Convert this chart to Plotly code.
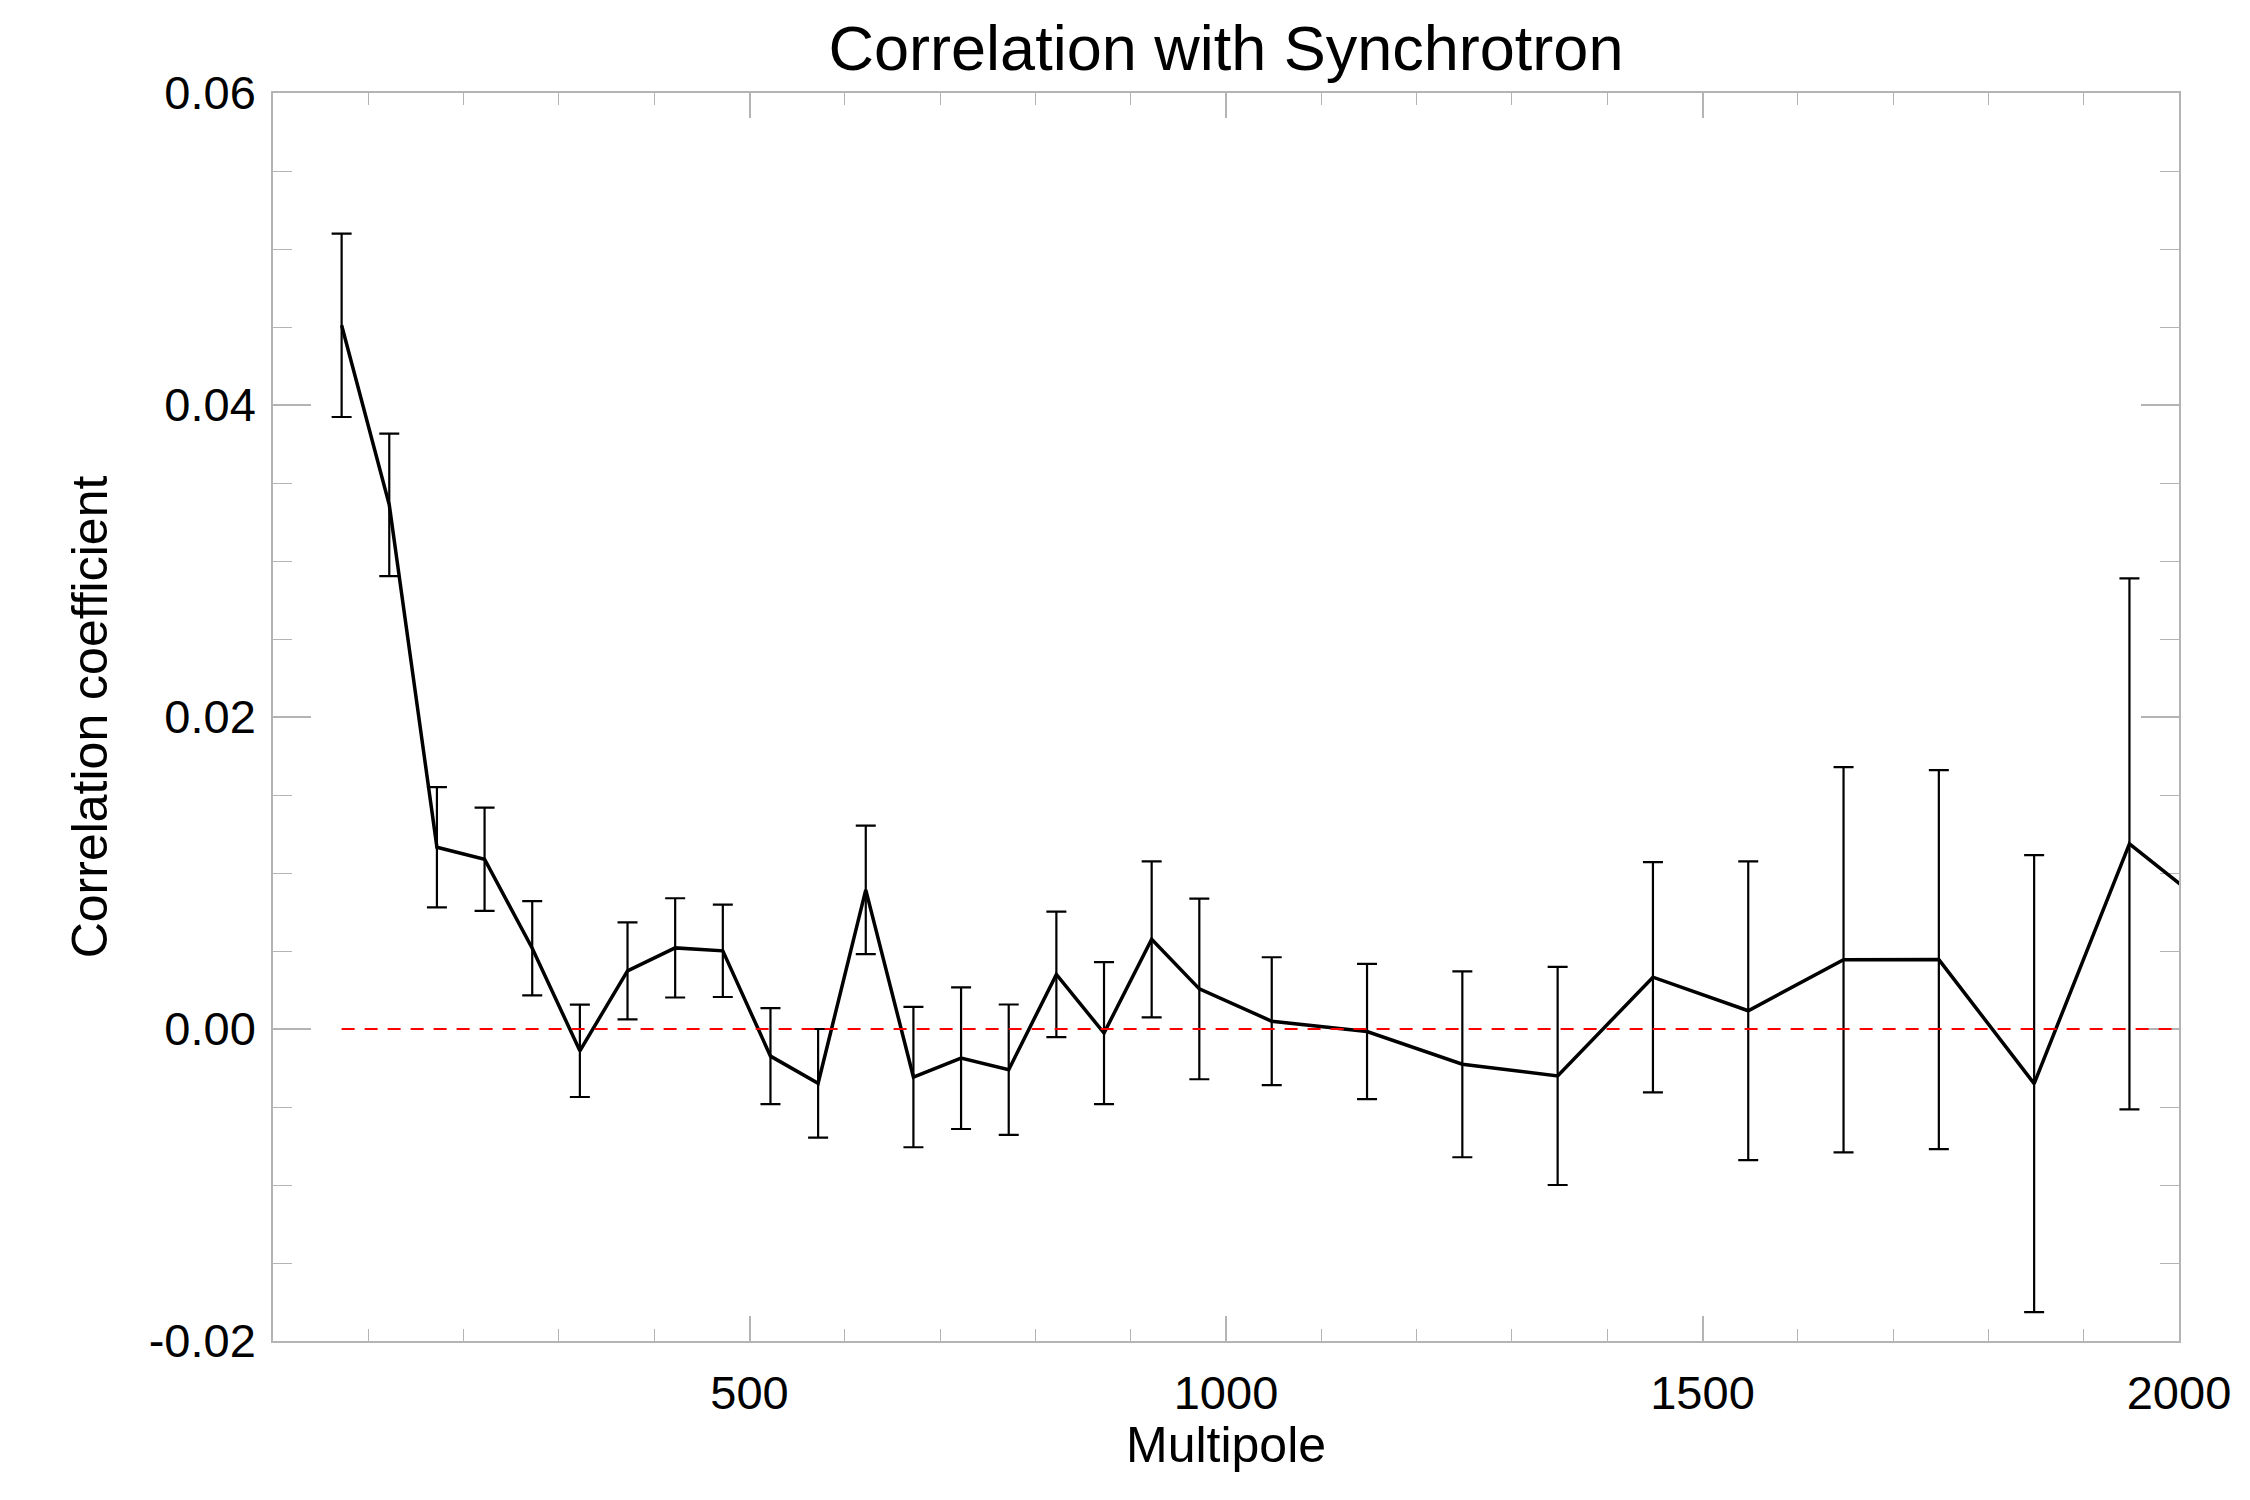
import plotly.graph_objects as go

# Multipole bin centres
multipole = [72, 122, 172, 222, 272, 322, 372, 422, 472, 522, 572, 622, 672, 722,
             772, 822, 872, 922, 972, 1048, 1148, 1248, 1348, 1448, 1548, 1648,
             1748, 1848, 1948, 2048]
# Correlation coefficient
corr = [0.04511, 0.0336, 0.01165, 0.01088, 0.00518, -0.0014, 0.00373, 0.0052,
        0.00501, -0.00174, -0.00348, 0.00892, -0.00308, -0.00187, -0.00261,
        0.0035, -0.00026, 0.00575, 0.00257, 0.0005, -0.00016, -0.00226,
        -0.00301, 0.00332, 0.00117, 0.00444, 0.00445, -0.0035, 0.01187, 0.0070]
# 1-sigma errors
err = [0.00588, 0.00457, 0.00385, 0.00331, 0.00302, 0.00296, 0.00311, 0.00318,
       0.00296, 0.00308, 0.00348, 0.00412, 0.0045, 0.00454, 0.00418, 0.00402,
       0.00455, 0.005, 0.00579, 0.0041, 0.00433, 0.00596, 0.00699, 0.00738,
       0.00958, 0.01235, 0.01215, 0.01465, 0.01702, 0.019]

x_range = [0, 2000]
y_range = [-0.02, 0.06]
zero_level = 0.0
y_tickvals = [-0.02, 0.0, 0.02, 0.04, 0.06]
y_ticktext = ["-0.02", "0.00", "0.02", "0.04", "0.06"]
x_tickvals = [0, 500, 1000, 1500, 2000]
x_ticktext = ["", "500", "1000", "1500", "2000"]

FONT = "Liberation Sans, Arial, Helvetica, sans-serif"
AX = "#b4b4b4"

fig = go.Figure()
fig.add_trace(go.Scatter(
    x=multipole, y=corr, mode="lines",
    line=dict(color="black", width=3.5),
    error_y=dict(type="data", array=err, visible=True, color="black",
                 thickness=2.2, width=10),
    showlegend=False, hoverinfo="skip"))

# red dashed zero reference line (drawn above axes/ticks like the original)
fig.add_shape(type="line", xref="x", yref="y",
              x0=multipole[0], x1=x_range[1], y0=zero_level, y1=zero_level,
              line=dict(color="#ff0000", width=2, dash="13px,10px"),
              layer="above")

fig.update_layout(
    width=2250, height=1500,
    margin=dict(l=265, r=79, t=85, b=167),
    paper_bgcolor="white", plot_bgcolor="white",
    font=dict(family=FONT, color="black", size=47),
    title=dict(text="Correlation with Synchrotron", x=0.5, xref="paper",
               xanchor="center", y=1 - 40 / 1500, yanchor="middle",
               font=dict(size=63, family=FONT, color="black")),
    annotations=[dict(text="Multipole", xref="paper", yref="paper",
                      x=0.5, y=0, xanchor="center", yanchor="middle",
                      yshift=-104, showarrow=False,
                      font=dict(size=50, family=FONT, color="black"))],
)
fig.update_xaxes(
    range=x_range, showgrid=False, zeroline=False, layer="below traces",
    showline=True, linecolor=AX, linewidth=1.5, mirror="allticks",
    ticks="inside", ticklen=25, tickwidth=1.5, tickcolor=AX,
    tickvals=x_tickvals, ticktext=x_ticktext,
    tickfont=dict(size=47, family=FONT), ticklabelstandoff=10,
    minor=dict(dtick=100, tick0=0, ticks="inside", ticklen=12,
               tickwidth=1.2, tickcolor=AX, showgrid=False),
)
fig.update_yaxes(
    range=y_range, showgrid=False, zeroline=False, layer="below traces",
    showline=True, linecolor=AX, linewidth=1.5, mirror="allticks",
    ticks="inside", ticklen=38, tickwidth=1.5, tickcolor=AX,
    tickvals=y_tickvals, ticktext=y_ticktext,
    tickfont=dict(size=47, family=FONT), ticklabelstandoff=6,
    minor=dict(dtick=0.005, tick0=0, ticks="inside", ticklen=19,
               tickwidth=1.2, tickcolor=AX, showgrid=False),
    title=dict(text="Correlation coefficient", font=dict(size=50, family=FONT),
               standoff=25),
)

fig.write_html("out.html")
